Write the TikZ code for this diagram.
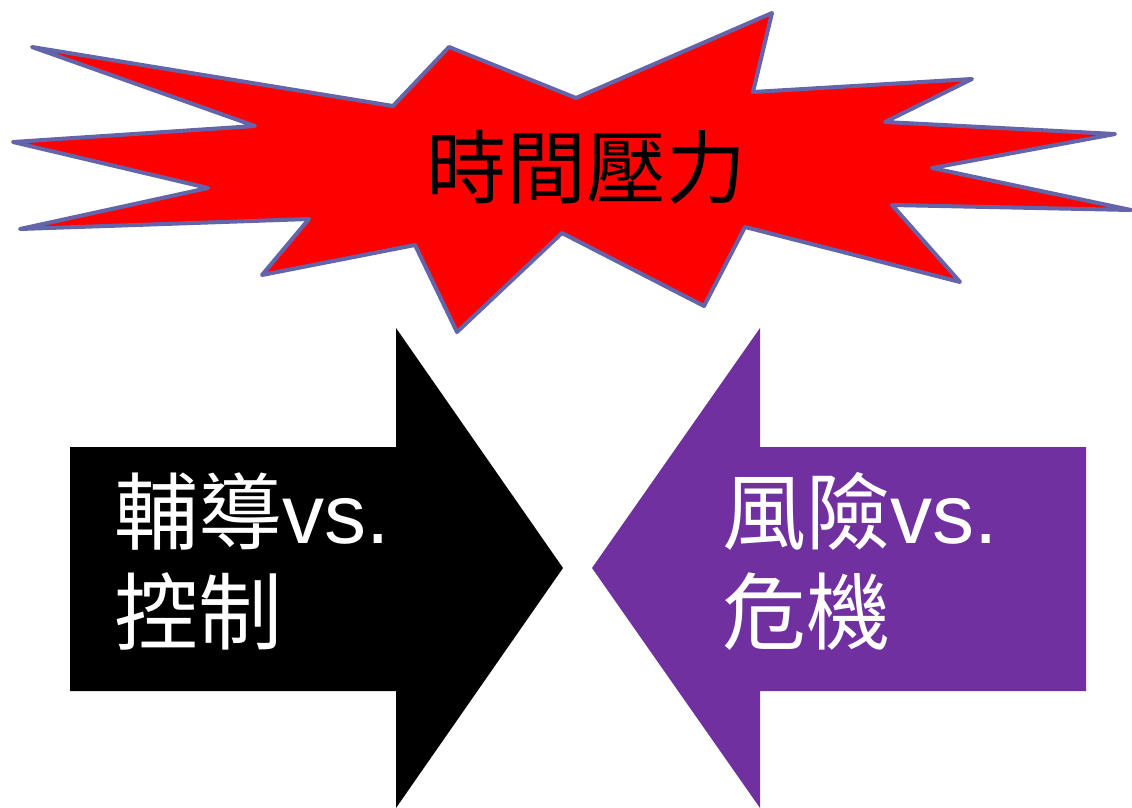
\documentclass[tikz,border=0pt]{standalone}
\usepackage{fontspec}
\newfontfamily\cjk{Noto Sans CJK TC}
\newfontfamily\arial{Liberation Sans}
\definecolor{starline}{RGB}{100,100,170}
\definecolor{arrowpurple}{RGB}{112,48,160}
\begin{document}
\begin{tikzpicture}[x=1pt,y=-1pt,
  burst/.style={fill=red,draw=starline,line width=4pt,line join=round},
  bigtext/.style={inner sep=0pt,anchor=base west,text=white,font=\fontsize{84}{100}\selectfont}]
\useasboundingbox (0,0) rectangle (1132,808);
% starburst
\draw[burst] (32,47) -- (393,106) -- (449,47) -- (576,98) -- (772,13) -- (753,92)
  -- (972,79) -- (885,122) -- (1115,134) -- (932,168) -- (1131,210) -- (892,205)
  -- (960,282) -- (745,227) -- (704,306) -- (562,233) -- (457,332) -- (415,245)
  -- (262,275) -- (309,219) -- (20,229) -- (208,188) -- (13,142) -- (255,126) -- cycle;
\node[inner sep=0pt,anchor=base,font=\fontsize{80}{96}\selectfont\cjk] (title) at (586,197) {時間壓力};
% black arrow
\fill[black] (70,447) -- (396,447) -- (396,328) -- (563,568) -- (396,808) -- (396,691) -- (70,691) -- cycle;
% purple arrow
\fill[arrowpurple] (1086,447) -- (760,447) -- (760,328) -- (592,568) -- (760,808) -- (760,691) -- (1086,691) -- cycle;
% texts
\node[bigtext] (l1) at (114,543) {{\cjk 輔導}{\arial vs.}};
\node[bigtext] (l2) at (114,643) {{\cjk 控制}};
\node[bigtext] (r1) at (722,543) {{\cjk 風險}{\arial vs.}};
\node[bigtext] (r2) at (722,643) {{\cjk 危機}};
\end{tikzpicture}
\end{document}
